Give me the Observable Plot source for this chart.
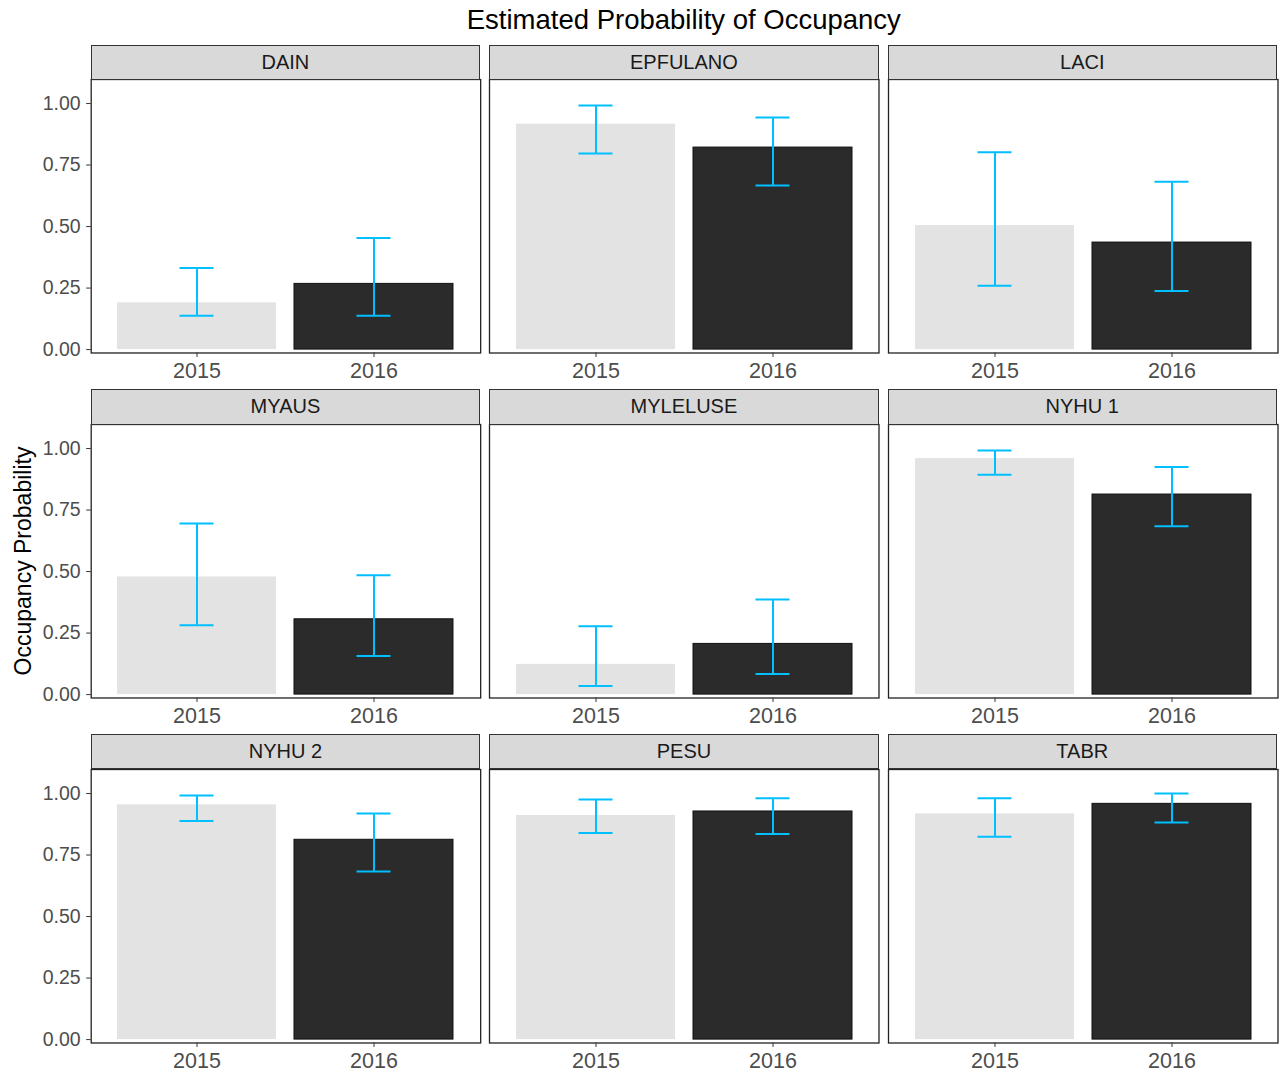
<!DOCTYPE html>
<html>
<head>
<meta charset="utf-8">
<script src="https://cdn.jsdelivr.net/npm/d3@7"></script>
<script src="https://cdn.jsdelivr.net/npm/@observablehq/plot@0.6"></script>
<style>
  html, body { margin: 0; padding: 0; background: #fff; }
  #chart { position: relative; width: 1282px; height: 1072px; background: #fff;
           font-family: "Liberation Sans", Arial, Helvetica, sans-serif; overflow: hidden; }
  .strip { position: absolute; box-sizing: border-box; background: #D9D9D9; border: 1.2px solid #333;
           color: #1A1A1A; font-size: 20px; text-align: center; display: flex; align-items: center; justify-content: center; }
  .title { position: absolute; color: #000; font-size: 27.5px; text-align: center; white-space: nowrap; line-height: 30px; }
  .ylab { position: absolute; color: #000; font-size: 23px; white-space: nowrap;
          transform: translate(-50%, -50%) rotate(-90deg); }
  .panel { position: absolute; }
</style>
</head>
<body>
<div id="chart"></div>
<script>
// ---- data ----
const species = ["DAIN", "EPFULANO", "LACI", "MYAUS", "MYLELUSE", "NYHU 1", "NYHU 2", "PESU", "TABR"];
const years = ["2015", "2016"];
const est2015 = [0.190, 0.916, 0.504, 0.478, 0.123, 0.959, 0.954, 0.911, 0.917];
const lo2015  = [0.138, 0.797, 0.259, 0.282, 0.035, 0.893, 0.888, 0.840, 0.824];
const hi2015  = [0.332, 0.992, 0.802, 0.695, 0.278, 0.992, 0.992, 0.976, 0.981];
const est2016 = [0.267, 0.821, 0.435, 0.306, 0.206, 0.813, 0.812, 0.927, 0.958];
const lo2016  = [0.138, 0.667, 0.238, 0.157, 0.084, 0.684, 0.683, 0.835, 0.882];
const hi2016  = [0.453, 0.943, 0.682, 0.485, 0.386, 0.925, 0.919, 0.981, 1.000];
const yTicks = [0, 0.25, 0.5, 0.75, 1];
const titleText = "Estimated Probability of Occupancy";
const yLabelText = "Occupancy Probability";

// ---- layout ----
const colLeft = [90.7, 489.2, 887.5];
const rowTop = [79.3, 424.0, 768.7];
const PW = 389.5, PH = 273.5, SH = 34.6;
const ML0 = 90.7, MB = 29.5;
const yDomain = [-0.0138, 1.0976];

const chart = document.getElementById("chart");

const title = document.createElement("div");
title.className = "title";
title.style.left = colLeft[0] + "px";
title.style.width = (colLeft[2] + PW - colLeft[0]) + "px";
title.style.top = "5px";
title.textContent = titleText;
chart.appendChild(title);

const ylab = document.createElement("div");
ylab.className = "ylab";
ylab.style.left = "23px";
ylab.style.top = "561px";
ylab.textContent = yLabelText;
chart.appendChild(ylab);

species.forEach((sp, i) => {
  const r = Math.floor(i / 3), c = i % 3;
  const rows = [
    {year: years[0], est: est2015[i], lo: lo2015[i], hi: hi2015[i]},
    {year: years[1], est: est2016[i], lo: lo2016[i], hi: hi2016[i]}
  ];
  const ml = c === 0 ? ML0 : 0;
  const plot = Plot.plot({
    width: ml + PW,
    height: PH + MB,
    marginLeft: ml, marginRight: 0, marginTop: 0, marginBottom: MB,
    style: {fontFamily: "'Liberation Sans', Arial, sans-serif", background: "transparent", overflow: "visible"},
    x: {type: "band", domain: years, paddingInner: 0.1, paddingOuter: 0.15, axis: null},
    y: {domain: yDomain, axis: null},
    color: {domain: years, range: ["#E3E3E3", "#2B2B2B"]},
    marks: [
      Plot.barY(rows, {x: "year", y: "est", fill: "year"}),
      Plot.barY(rows, {filter: d => d.year === "2016", x: "year", y: "est", fill: "none", stroke: "#111", strokeWidth: 1}),
      Plot.ruleX(rows, {x: "year", y1: "lo", y2: "hi", stroke: "#00BFFF", strokeWidth: 2}),
      Plot.tickY(rows, {x: "year", y: "lo", stroke: "#00BFFF", strokeWidth: 2, insetLeft: 62.5, insetRight: 62.5}),
      Plot.tickY(rows, {x: "year", y: "hi", stroke: "#00BFFF", strokeWidth: 2, insetLeft: 62.5, insetRight: 62.5}),
      Plot.frame({stroke: "#222", strokeWidth: 1.3}),
      Plot.axisX({label: null, tickSize: 4.5, tickPadding: 5, fontSize: 21.5, color: "#333", fill: "#4D4D4D"}),
      c === 0 ? Plot.axisY({label: null, ticks: yTicks, tickFormat: d3.format(".2f"), tickSize: 4.5, tickPadding: 6,
                            fontSize: 19.5, color: "#333", fill: "#4D4D4D"}) : null
    ]
  });
  const wrap = document.createElement("div");
  wrap.className = "panel";
  wrap.style.left = (colLeft[c] - ml) + "px";
  wrap.style.top = rowTop[r] + "px";
  wrap.appendChild(plot);
  chart.appendChild(wrap);

  const strip = document.createElement("div");
  strip.className = "strip";
  strip.style.left = colLeft[c] + "px";
  strip.style.top = (rowTop[r] - SH) + "px";
  strip.style.width = PW + "px";
  strip.style.height = (SH + 0.6) + "px";
  strip.textContent = sp;
  chart.appendChild(strip);
});
</script>
</body>
</html>
